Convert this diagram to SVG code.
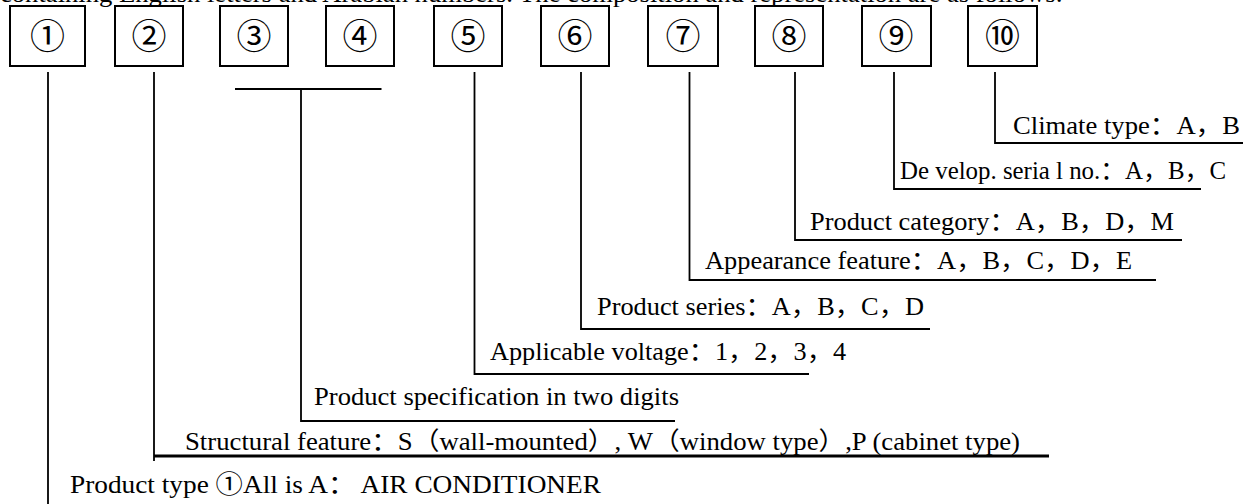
<svg xmlns="http://www.w3.org/2000/svg" width="1243" height="504" viewBox="0 0 1243 504">
<style>
.box{fill:#fff;stroke:#000;stroke-width:2}
.num{font-family:"Noto Sans CJK SC","DejaVu Sans",sans-serif;font-size:35px;text-anchor:middle;fill:#000}
.lbl{font-family:"Liberation Serif","Noto Sans CJK SC",serif;font-size:25px;fill:#000}
.ln{fill:none;stroke:#000;stroke-width:1.8}
.thick{fill:none;stroke:#000;stroke-width:3}
</style>
<rect width="1243" height="504" fill="#fff"/>
<text class="lbl" x="0" y="1.5" font-size="22" textLength="1063" lengthAdjust="spacingAndGlyphs">containing English letters and Arabian numbers. The composition and representation are as follows:</text>
<g id="n1"><rect class="box" x="10" y="6" width="75" height="60"/><text class="num" x="47.5" y="49">①</text></g>
<g id="n2"><rect class="box" x="115" y="6" width="68" height="60"/><text class="num" x="149" y="49">②</text></g>
<g id="n3"><rect class="box" x="220" y="6" width="68" height="60"/><text class="num" x="254" y="49">③</text></g>
<g id="n4"><rect class="box" x="326" y="6" width="68" height="60"/><text class="num" x="360" y="49">④</text></g>
<g id="n5"><rect class="box" x="434" y="6" width="68" height="60"/><text class="num" x="468" y="49">⑤</text></g>
<g id="n6"><rect class="box" x="541" y="6" width="68" height="60"/><text class="num" x="575" y="49">⑥</text></g>
<g id="n7"><rect class="box" x="648" y="6" width="70" height="60"/><text class="num" x="683" y="49">⑦</text></g>
<g id="n8"><rect class="box" x="755" y="6" width="68" height="60"/><text class="num" x="789" y="49">⑧</text></g>
<g id="n9"><rect class="box" x="862" y="6" width="69" height="60"/><text class="num" x="896" y="49">⑨</text></g>
<g id="n10"><rect class="box" x="968" y="6" width="69" height="60"/><text class="num" x="1002.5" y="49">⑩</text></g>
<g id="connectors">
<path class="ln" d="M995,72 V143 H1243"/>
<path class="ln" d="M894,72 V189 H1201"/>
<path class="ln" d="M795,72 V240 H1182"/>
<path class="ln" d="M689.5,72 V280 H1156"/>
<path class="ln" d="M581,72 V329 H930"/>
<path class="ln" d="M474.5,72 V374 H809"/>
<path class="ln" d="M235,89 H381.5 M301,89 V421 H675"/>
<path class="ln" d="M154,72 V461"/>
<path class="thick" d="M154,456 H1049"/>
<path class="ln" d="M48,72 V504"/>
</g>
<g id="labels">
<text class="lbl" x="1013" y="134" textLength="227" lengthAdjust="spacingAndGlyphs">Climate type：A，B</text>
<text class="lbl" x="900" y="179" textLength="326" lengthAdjust="spacingAndGlyphs">De velop. seria l no.：A，B，C</text>
<text class="lbl" x="810" y="230" textLength="364" lengthAdjust="spacingAndGlyphs">Product category：A，B，D，M</text>
<text class="lbl" x="705" y="269" textLength="427" lengthAdjust="spacingAndGlyphs">Appearance feature：A，B，C，D，E</text>
<text class="lbl" x="597" y="315" textLength="327" lengthAdjust="spacingAndGlyphs">Product series：A，B，C，D</text>
<text class="lbl" x="490" y="360" textLength="356" lengthAdjust="spacingAndGlyphs">Applicable voltage：1，2，3，4</text>
<text class="lbl" x="314" y="405" textLength="365" lengthAdjust="spacingAndGlyphs">Product specification in two digits</text>
<text class="lbl" x="185" y="450" textLength="835" lengthAdjust="spacingAndGlyphs">Structural feature：S（wall-mounted）, W（window type）,P (cabinet type)</text>
<text class="lbl" x="70" y="493" textLength="531" lengthAdjust="spacingAndGlyphs">Product type  ①All is A：  AIR CONDITIONER</text>
</g>
</svg>
